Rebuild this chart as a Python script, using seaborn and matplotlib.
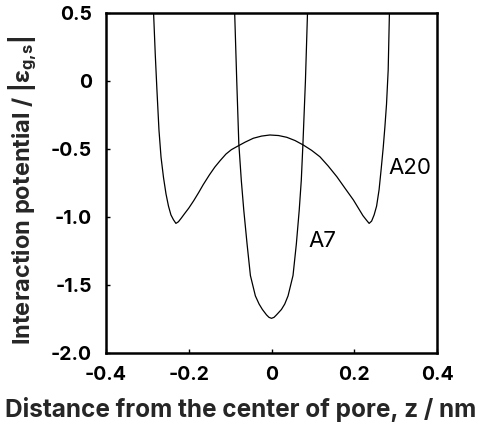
import matplotlib
matplotlib.use("Agg")
import matplotlib.pyplot as plt
import seaborn as sns
import pandas as pd

# ---- data ----
a7_z = [-0.089, -0.084, -0.079, -0.073, -0.067, -0.059, -0.051, -0.039, -0.030,
        -0.022, -0.012, -0.006, 0.000, 0.006, 0.012, 0.024, 0.032, 0.040, 0.052,
        0.060, 0.067, 0.072, 0.076, 0.082, 0.087]
a7_v = [0.50, 0.00, -0.46, -0.73, -0.95, -1.20, -1.43, -1.58, -1.64,
        -1.68, -1.72, -1.738, -1.745, -1.738, -1.72, -1.68, -1.64, -1.58, -1.43,
        -1.20, -0.95, -0.73, -0.46, 0.00, 0.50]

a20_z = [-0.285, -0.281, -0.277, -0.272, -0.267, -0.261, -0.255, -0.249, -0.243,
         -0.237, -0.231, -0.225, -0.218, -0.210, -0.200, -0.188, -0.176, -0.165,
         -0.150, -0.137, -0.124, -0.110, -0.097, -0.084, -0.064, -0.044, -0.024,
         -0.004, 0.017, 0.037, 0.057, 0.077, 0.097, 0.117, 0.137, 0.158, 0.178,
         0.198, 0.210, 0.221, 0.230, 0.236, 0.242, 0.248, 0.254, 0.260, 0.265,
         0.270, 0.274, 0.278, 0.282, 0.285]
a20_v = [0.50, 0.20, -0.06, -0.36, -0.56, -0.71, -0.83, -0.92, -0.985,
         -1.02, -1.047, -1.035, -1.008, -0.975, -0.935, -0.88, -0.82, -0.762,
         -0.69, -0.633, -0.585, -0.537, -0.505, -0.483, -0.450, -0.421, -0.405,
         -0.397, -0.401, -0.414, -0.438, -0.471, -0.51, -0.557, -0.625, -0.704, -0.79,
         -0.875, -0.935, -0.99, -1.025, -1.047, -1.03, -0.985, -0.92, -0.80, -0.65,
         -0.49, -0.34, -0.17, 0.08, 0.50]

curve_labels = ["A7", "A20"]
label_pos_z = [0.122, 0.335]
label_pos_v = [-1.176, -0.64]

x_ticks = [-0.4, -0.2, 0.0, 0.2, 0.4]
x_ticklabels = ["-0.4", "-0.2", "0", "0.2", "0.4"]
y_ticks = [0.5, 0.0, -0.5, -1.0, -1.5, -2.0]
y_ticklabels = ["0.5", "0", "-0.5", "-1.0", "-1.5", "-2.0"]

xlabel = "Distance from the center of pore, z / nm"
ylabel = "Interaction potential / |ε$_{g{,}s}$|"

# ---- style ----
FONT = "Inter"
sns.set_style("ticks")
plt.rcParams["font.family"] = [FONT, "DejaVu Sans"]
plt.rcParams["mathtext.fontset"] = "custom"
plt.rcParams["mathtext.rm"] = FONT + ":bold"
plt.rcParams["mathtext.it"] = FONT + ":bold"
plt.rcParams["mathtext.bf"] = FONT + ":bold"

fig = plt.figure(figsize=(4.82, 4.22), dpi=100)
ax = fig.add_axes([106 / 482, 1 - 353 / 422, 331 / 482, 340 / 422])

df7 = pd.DataFrame({"z": a7_z, "v": a7_v})
df20 = pd.DataFrame({"z": a20_z, "v": a20_v})
sns.lineplot(data=df7, x="z", y="v", sort=False, estimator=None, color="black",
             lw=0.9, ax=ax)
sns.lineplot(data=df20, x="z", y="v", sort=False, estimator=None, color="black",
             lw=0.9, ax=ax)

for lab, zz, vv in zip(curve_labels, label_pos_z, label_pos_v):
    ax.text(zz, vv, lab, fontsize=16, ha="center", va="center", color="black")

ax.set_xlim(-0.4, 0.4)
ax.set_ylim(-2.0, 0.5)
ax.set_xticks(x_ticks)
ax.set_xticklabels(x_ticklabels)
ax.set_yticks(y_ticks)
ax.set_yticklabels(y_ticklabels)
ax.set_xlabel("")
ax.set_ylabel("")
for lbl in ax.get_xticklabels() + ax.get_yticklabels():
    lbl.set_fontweight("bold")
    lbl.set_fontsize(14)
ax.tick_params(direction="in", length=3, width=1, top=False, right=False,
               colors="black")
ax.tick_params(axis="x", pad=9)
ax.tick_params(axis="y", pad=10)
for sp in ax.spines.values():
    sp.set_visible(True)
    sp.set_linewidth(1.8)
    sp.set_color("black")

fig.text(241 / 482, 1 - 409 / 422, xlabel, ha="center", va="center",
         fontsize=17.5, fontweight="bold")
fig.text(23 / 482, 1 - 190 / 422, ylabel, ha="center", va="center",
         rotation=90, fontsize=17, fontweight="bold")

fig.savefig("out.png", dpi=100, facecolor="white")
